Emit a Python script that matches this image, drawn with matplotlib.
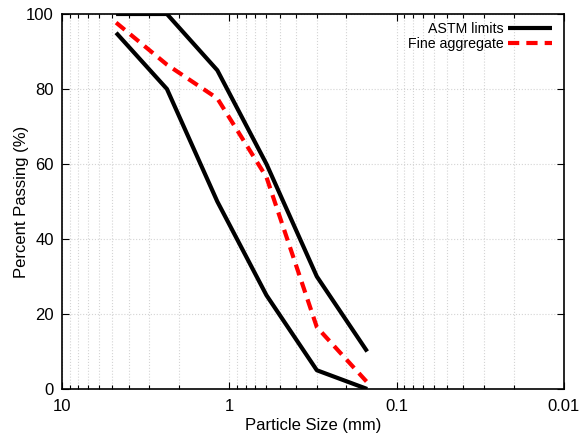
import matplotlib
matplotlib.use("Agg")
import matplotlib.pyplot as plt
import numpy as np
from matplotlib.ticker import FixedLocator, FixedFormatter, LogLocator, NullFormatter

plt.rcParams['font.family'] = ['Liberation Sans', 'DejaVu Sans']

sieve_sizes = [4.75, 2.36, 1.18, 0.6, 0.3, 0.15]
astm_upper = [100, 100, 85, 60, 30, 10]
astm_lower = [95, 80, 50, 25, 5, 0]
fine_aggregate = [97.7, 86.5, 77.5, 56.5, 16.5, 1.8]
x_tick_values = [10, 1, 0.1, 0.01]
x_tick_labels = ["10", "1", "0.1", "0.01"]
y_ticks = [0, 20, 40, 60, 80, 100]

fig = plt.figure(figsize=(5.8, 4.34), dpi=100)
ax = fig.add_axes([62/580, 1-389/434, (564-62)/580, (389-14)/434])

ax.plot(sieve_sizes, astm_upper, color='black', lw=3, solid_capstyle='butt', label='ASTM limits')
ax.plot(sieve_sizes, astm_lower, color='black', lw=3, solid_capstyle='butt')
ax.plot(sieve_sizes, fine_aggregate, color='red', lw=3, ls=(0, (2.7, 1.7)), label='Fine aggregate')

ax.set_xscale('log')
ax.set_xlim(10, 0.01)
ax.set_ylim(0, 100)
ax.xaxis.set_major_locator(FixedLocator(x_tick_values))
ax.xaxis.set_major_formatter(FixedFormatter(x_tick_labels))
ax.xaxis.set_minor_locator(LogLocator(base=10, subs=np.arange(2, 10)))
ax.xaxis.set_minor_formatter(NullFormatter())
ax.set_yticks(y_ticks)

ax.grid(True, which='major', color='#d4d4d4', ls=':', lw=0.8)
ax.grid(True, which='minor', axis='x', color='#d4d4d4', ls=':', lw=0.8)
ax.tick_params(which='both', direction='in', top=True, right=True, labelsize=12, colors='black')
ax.tick_params(which='major', length=5, width=0.8)
ax.tick_params(which='minor', length=3, width=0.8)
ax.tick_params(axis='x', pad=7)
ax.tick_params(axis='y', pad=6)
for s in ax.spines.values():
    s.set_linewidth(1.2)

ax.set_xlabel('Particle Size (mm)', fontsize=12, labelpad=3)
ax.set_ylabel('Percent Passing (%)', fontsize=12, labelpad=-2.5)

leg = ax.legend(loc='upper right', frameon=False, markerfirst=False, fontsize=10.2,
                handlelength=3.1, handletextpad=0.3, labelspacing=0.1,
                borderaxespad=0.15, bbox_to_anchor=(0.992, 1.0))

fig.savefig('out.png', dpi=100)
